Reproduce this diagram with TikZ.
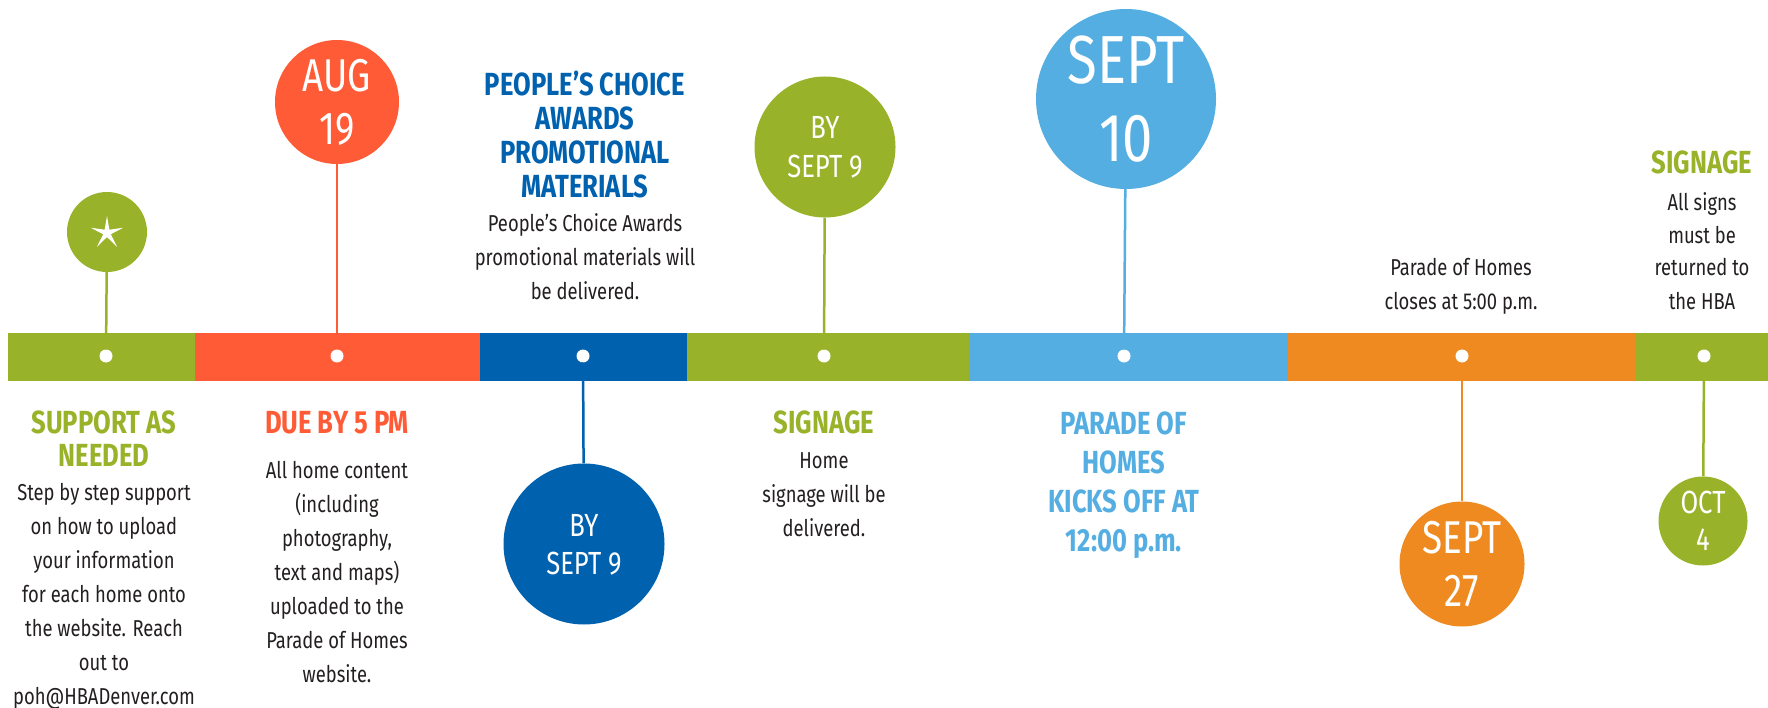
\documentclass[tikz,border=0pt]{standalone}
\usepackage{fontspec}
\setmainfont{Fira Sans}[FakeStretch=0.8]
\usetikzlibrary{shapes.geometric}
\definecolor{tlgreen}{HTML}{98B22A}
\definecolor{tlred}{HTML}{FF5B36}
\definecolor{tlblue}{HTML}{0061AF}
\definecolor{tlsky}{HTML}{55AEE1}
\definecolor{tlorange}{HTML}{EE8A20}
\definecolor{tltext}{HTML}{231F20}

\begin{document}
\begin{tikzpicture}[x=1pt,y=-1pt]

    \tikzstyle{dot} = [circle, fill=white, minimum size=13pt, inner sep=0pt]
    \tikzstyle{date} = [circle, inner sep=0pt, text=white, align=center]
    \tikzstyle{stem} = [line width=2.5pt]
    \tikzstyle{head} = [font=\bfseries\fontsize{32}{33}\selectfont, align=center, anchor=base, inner sep=0pt]
    \tikzstyle{body} = [font=\fontsize{23}{34}\selectfont, text=tltext, align=center, anchor=base, inner sep=0pt]

    \useasboundingbox (0,0) rectangle (1768,708);

    \fill[tlgreen]  (8,333)    rectangle (195,381);
    \fill[tlred]    (195,333)  rectangle (480,381);
    \fill[tlblue]   (480,333)  rectangle (687,381);
    \fill[tlgreen]  (687,333)  rectangle (969,381);
    \fill[tlsky]    (969,333)  rectangle (1288,381);
    \fill[tlorange] (1288,333) rectangle (1636,381);
    \fill[tlgreen]  (1636,333) rectangle (1768,381);

    \node[dot] (d1) at (106,356) {};
    \node[dot] (d2) at (337,356) {};
    \node[dot] (d3) at (583,356) {};
    \node[dot] (d4) at (824,356) {};
    \node[dot] (d5) at (1124,356) {};
    \node[dot] (d6) at (1462,356) {};
    \node[dot] (d7) at (1704,356) {};

    \node[date, fill=tlgreen, minimum size=80pt] (c1) at (107,232) {};
    \node[star, star points=5, star point ratio=4.2, fill=white, minimum size=34pt, inner sep=0pt] (s1) at (107,233) {};
    \node[date, fill=tlred, minimum size=124pt, font=\fontsize{46}{53}\selectfont, text depth=-8pt] (c2) at (337,102) {AUG\\19};
    \node[date, fill=tlblue, minimum size=161pt, font=\fontsize{32}{38}\selectfont, text depth=-5pt] (c3) at (584,544) {BY\\SEPT 9};
    \node[date, fill=tlgreen, minimum size=141pt, font=\fontsize{32}{39}\selectfont, text depth=-5pt] (c4) at (825,147) {BY\\SEPT 9};
    \node[date, fill=tlsky, minimum size=180pt, font=\fontsize{68}{78}\selectfont, text depth=-12pt] (c5) at (1126,99) {SEPT\\10};
    \node[date, fill=tlorange, minimum size=125pt, font=\fontsize{46}{53}\selectfont, text depth=-8pt] (c6) at (1462,564) {SEPT\\27};
    \node[date, fill=tlgreen, minimum size=89pt, font=\fontsize{32}{37}\selectfont, text depth=-5pt] (c7) at (1703,521) {OCT\\4};

    \draw[stem, tlgreen] (c1) -- (d1);
    \draw[stem, tlred] (c2) -- (d2);
    \draw[stem, tlblue] (c3) -- (d3);
    \draw[stem, tlgreen] (c4) -- (d4);
    \draw[stem, tlsky] (c5) -- (d5);
    \draw[stem, tlorange] (c6) -- (d6);
    \draw[stem, tlgreen] (c7) -- (d7);

    \node[head, text=tlgreen] (h1) at (104,466) {SUPPORT AS\\NEEDED};
    \node[body] (b1) at (104,704) {Step by step support\\on how to upload\\your information\\for each home onto\\the website. Reach\\out to\\poh@HBADenver.com};

    \node[head, text=tlred] (h2) at (337,433) {DUE BY 5 PM};
    \node[body] (b2) at (337,682) {All home content\\(including\\photography,\\text and maps)\\uploaded to the\\Parade of Homes\\website.};

    \node[head, text=tlblue, font=\bfseries\fontsize{32}{34}\selectfont] (h3) at (585,198) {PEOPLE’S CHOICE\\AWARDS\\PROMOTIONAL\\MATERIALS};
    \node[body] (b3) at (585,300) {People’s Choice Awards\\promotional materials will\\be delivered.};

    \node[head, text=tlgreen] (h4) at (824,433) {SIGNAGE};
    \node[body] (b4) at (824,536) {Home\\signage will be\\delivered.};

    \node[head, text=tlsky, font=\bfseries\fontsize{32}{39}\selectfont] (h5) at (1124,551) {PARADE OF\\HOMES\\KICKS OFF AT\\12:00 p.m.};

    \node[body] (b6) at (1461,310) {Parade of Homes\\closes at 5:00 p.m.};

    \node[head, text=tlgreen] (h7) at (1702,174) {SIGNAGE};
    \node[body, font=\fontsize{23}{33}\selectfont] (h7b) at (1702,309) {All signs\\must be\\returned to\\the HBA};

\end{tikzpicture}
\end{document}
